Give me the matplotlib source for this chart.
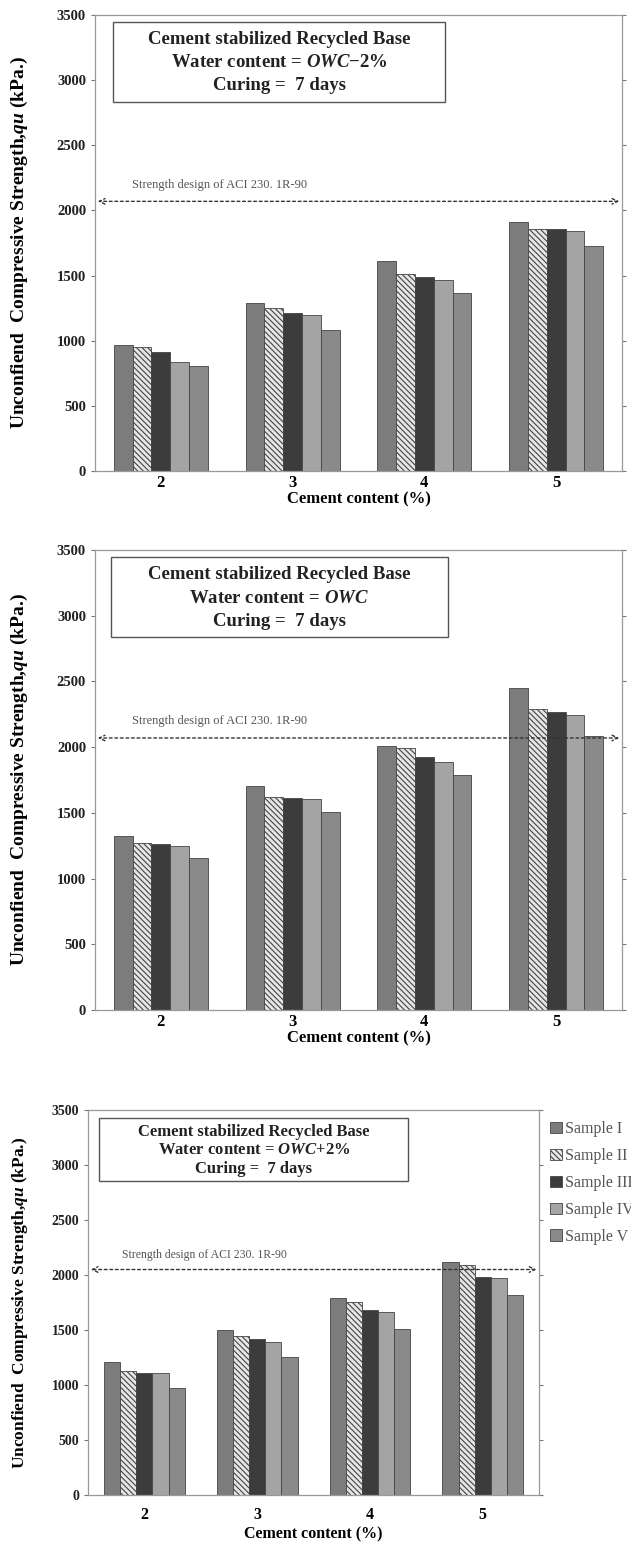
import matplotlib
matplotlib.use('Agg')
import matplotlib.pyplot as plt
import numpy as np

plt.rcParams['font.family'] = ['Liberation Serif', 'DejaVu Serif']
plt.rcParams['font.weight'] = 'bold'
plt.rcParams['axes.labelweight'] = 'bold'
plt.rcParams['mathtext.fontset'] = 'custom'
plt.rcParams['mathtext.rm'] = 'Liberation Serif:bold'
plt.rcParams['mathtext.it'] = 'Liberation Serif:italic'
plt.rcParams['hatch.linewidth'] = 0.8

cement = [2, 3, 4, 5]
samples = ['Sample I', 'Sample II', 'Sample III', 'Sample IV', 'Sample V']

# unconfined compressive strength (kPa), one list per sample over cement content
owc_m2 = [
    [970, 1290, 1615, 1915],
    [950, 1250, 1515, 1855],
    [915, 1210, 1490, 1855],
    [840, 1200, 1470, 1845],
    [810, 1085, 1365, 1725],
]
owc = [
    [1325, 1706, 2010, 2454],
    [1274, 1624, 1992, 2292],
    [1262, 1612, 1929, 2266],
    [1251, 1604, 1891, 2246],
    [1160, 1505, 1789, 2086],
]
owc_p2 = [
    [1208, 1500, 1791, 2119],
    [1129, 1442, 1758, 2095],
    [1108, 1418, 1685, 1982],
    [1108, 1393, 1667, 1970],
    [974, 1254, 1506, 1821],
]
water_labels = [r'$\mathit{OWC{-}2\%}$', r'$\mathit{OWC}$', r'$\mathit{OWC{+}2\%}$']
aci_line = [2070, 2070, 2050]

faces = ['#7c7c7c', '#e6e6e6', '#3c3c3c', '#a4a4a4', '#8a8a8a']
hatches = [None, '\\\\\\\\\\\\', None, None, None]

fig = plt.figure(figsize=(6.31, 15.46), dpi=100)
positions = [
    [0.1506, 0.6953, 0.8351, 0.2950],
    [0.1506, 0.3467, 0.8351, 0.2975],
    [0.1395, 0.0330, 0.7150, 0.2490],
]
boxes = [
    (0.035, 0.985, 0.665, 0.81),
    (0.03, 0.985, 0.67, 0.81),
    (0.025, 0.98, 0.71, 0.815),
]
datasets = [owc_m2, owc, owc_p2]

for k, data in enumerate(datasets):
    ax = fig.add_axes(positions[k])
    x = np.arange(len(cement))
    w = 0.143
    for i in range(5):
        ax.bar(x + (i - 2) * w, data[i], w, color=faces[i], edgecolor='#444444',
               linewidth=0.6, hatch=hatches[i], label=samples[i])
    ax.set_xlim(-0.5, 3.5)
    ax.set_ylim(0, 3500)
    ax.set_yticks(range(0, 3501, 500))
    ax.set_xticks(x)
    ax.set_xticklabels([str(c) for c in cement])
    big = k < 2
    ax.tick_params(axis='y', labelsize=10.5 if big else 10, length=3, color='#777777',
                   right=True, labelcolor='#222222')
    ax.tick_params(axis='x', labelsize=12 if big else 11.5, length=0, pad=3 if big else 9)
    for s in ax.spines.values():
        s.set_color('#999999')
        s.set_linewidth(0.9)
    ax.set_xlabel('Cement content (%)', fontsize=12 if big else 11.5, labelpad=0 if big else 2)
    ax.set_ylabel(r'Unconfiend  Compressive Strength,$\mathit{qu}$ (kPa.)',
                  fontsize=14 if big else 12.5)
    ax.yaxis.set_label_coords(-0.123 if big else -0.129, 0.5)

    # design strength line
    ax.annotate('', xy=(-0.5, aci_line[k]), xytext=(3.5, aci_line[k]),
                arrowprops=dict(arrowstyle='<->', linestyle=(0, (2, 2)),
                                color='#333333', lw=1.0))
    ax.text(-0.22 if big else -0.2, aci_line[k] + 80, 'Strength design of ACI 230. 1R-90',
            fontsize=9 if big else 8.5, fontweight='normal', color='#555555', va='bottom')

    bx0, by1, bx1, by0 = boxes[k]
    ax.add_patch(plt.Rectangle((bx0, by0), bx1 - bx0, by1 - by0, transform=ax.transAxes,
                               facecolor='white', edgecolor='#555555', lw=1.0, zorder=3))
    fs = 13.5 if big else 12
    cx = (bx0 + bx1) / 2
    lines = ['Cement stabilized Recycled Base',
             'Water content = ' + water_labels[k],
             'Curing =  7 days']
    for j, t in enumerate(lines):
        yy = by1 - (by1 - by0) * (0.22 + 0.29 * j)
        ax.text(cx, yy, t, transform=ax.transAxes, ha='center', va='center',
                fontsize=fs, zorder=4, color='#222222')

    if k == 2:
        ax.legend(loc='upper left', bbox_to_anchor=(1.0, 1.0), frameon=False,
                  prop={'size': 11.5, 'weight': 'normal'}, handlelength=0.7,
                  handleheight=0.7, handletextpad=0.2, labelspacing=0.68,
                  borderaxespad=0.3, labelcolor='#555555')

fig.savefig('out.png', dpi=100)
